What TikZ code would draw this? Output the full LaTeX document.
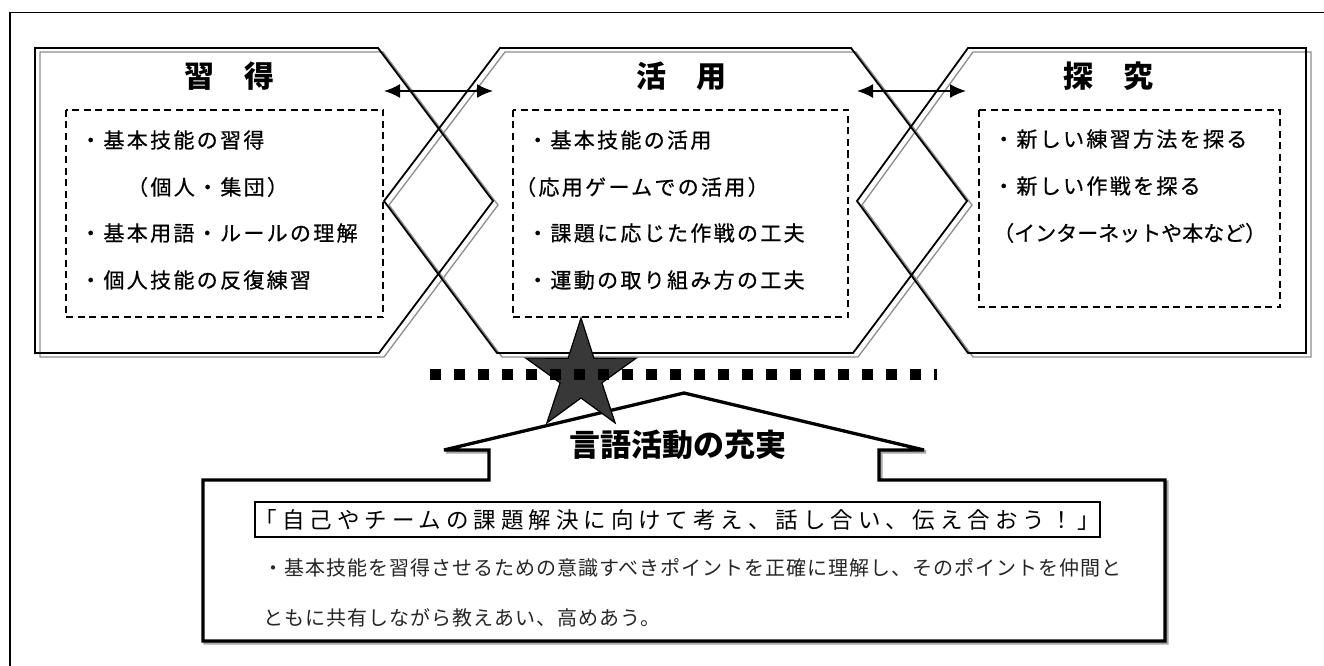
\documentclass[tikz,border=0pt]{standalone}
\usepackage{fontspec}
\setmainfont{Noto Sans CJK JP}
\newfontfamily\jpbody[LetterSpace=11, FakeBold=0.6]{Noto Sans CJK JP}
\newfontfamily\jpplain[FakeBold=0.6]{Noto Sans CJK JP}
\newfontfamily\jpquote[LetterSpace=22]{Noto Sans CJK JP}
\newfontfamily\jpsmall[LetterSpace=5]{Noto Sans CJK JP}
\usetikzlibrary{arrows.meta}
\tikzset{
  shadowline/.style={draw=black!45, line width=1.3},
  shapeline/.style={draw=black, line width=1.8},
  dashbox/.style={draw=black, line width=1.4, dash pattern=on 7pt off 4.5pt},
  titletext/.style={font=\fontsize{30}{30}\selectfont\bfseries, inner sep=0},
  bodytext/.style={font=\jpbody\fontsize{21}{21}\selectfont, anchor=west, inner sep=0},
  biarrow/.style={{Latex[length=16pt,width=14pt]}-{Latex[length=16pt,width=14pt]}, line width=1.8},
  smalltext/.style={font=\jpsmall\fontsize{20}{20}\selectfont, anchor=west, inner sep=0, text=black!85},
}
\begin{document}
\begin{tikzpicture}[x=1pt,y=-1pt]
\useasboundingbox (0,0) rectangle (1324,666);
\fill[white] (0,0) rectangle (1324,666);
% outer frame (top and left only visible)
\draw[line width=1.7] (10,666) -- (10,12.5) -- (1324,12.5);

% shadows of the three shapes
\begin{scope}[shift={(5,4)}]
\draw[shadowline] (35,48) -- (378,48) -- (493,201) -- (379,353) -- (35,353) -- cycle;
\draw[shadowline] (500,48) -- (851,48) -- (967,201) -- (853,353) -- (497,353) -- (384,201) -- cycle;
\draw[shadowline] (968,48) -- (1306,48) -- (1306,353) -- (968,353) -- (857,201) -- cycle;
\end{scope}
% the three shapes
\draw[shapeline] (35,48) -- (378,48) -- (493,201) -- (379,353) -- (35,353) -- cycle;
\draw[shapeline] (500,48) -- (851,48) -- (967,201) -- (853,353) -- (497,353) -- (384,201) -- cycle;
\draw[shapeline] (968,48) -- (1306,48) -- (1306,353) -- (968,353) -- (857,201) -- cycle;

% dashed boxes
\draw[dashbox] (66,110) rectangle (383,317);
\draw[dashbox] (513,110) rectangle (848,317);
\draw[dashbox] (979,110) rectangle (1280,307);

% titles
\node[titletext] (tA) at (229,76) {習　得};
\node[titletext] (tB) at (681,76) {活　用};
\node[titletext] (tC) at (1108,76) {探　究};

% double arrows
\coordinate (aL1) at (384,91);
\coordinate (aR1) at (493,91);
\coordinate (aL2) at (857,91);
\coordinate (aR2) at (966,91);
\draw[biarrow] (aL1) -- (aR1);
\draw[biarrow] (aL2) -- (aR2);

% body texts
\node[bodytext] (a1) at (80,140) {・基本技能の習得};
\node[bodytext] (a2) at (127,187) {（個人・集団）};
\node[bodytext] (a3) at (80,233) {・基本用語・ルールの理解};
\node[bodytext] (a4) at (80,280) {・個人技能の反復練習};

\node[bodytext] (b1) at (527,140) {・基本技能の活用};
\node[bodytext] (b2) at (515,187) {（応用ゲームでの活用）};
\node[bodytext] (b3) at (527,233) {・課題に応じた作戦の工夫};
\node[bodytext] (b4) at (527,280) {・運動の取り組み方の工夫};

\node[bodytext] (c1) at (993,139) {・新しい練習方法を探る};
\node[bodytext] (c2) at (993,186) {・新しい作戦を探る};
\node[bodytext, font=\jpplain\fontsize{21}{21}\selectfont] (c3) at (993,233) {（インターネットや本など）};

% callout (arrow + box)
\draw[black!35, line width=3.3, miter limit=3, shift={(2,2)}] (203,480) -- (489,480) -- (489,450) -- (444,450) -- (684,393) -- (924,450) -- (879,450) -- (879,480) -- (1165,480) -- (1165,641) -- (203,641) -- cycle;
\draw[fill=white, line width=3.3, miter limit=3] (203,480) -- (489,480) -- (489,450) -- (444,450) -- (684,393) -- (924,450) -- (879,450) -- (879,480) -- (1165,480) -- (1165,641) -- (203,641) -- cycle;

\node[font=\fontsize{31}{31}\selectfont\bfseries, inner sep=0] (lang) at (678,445) {言語活動の充実};

\node[draw, line width=2, minimum width=831pt, minimum height=35pt, inner sep=0,
      font=\jpquote\fontsize{22.5}{22.5}\selectfont] (quote) at (677.5,519.5)
      {「自己やチームの課題解決に向けて考え、話し合い、伝え合おう！」};

\node[smalltext] (p1) at (263,568) {・基本技能を習得させるための意識すべきポイントを正確に理解し、そのポイントを仲間と};
\node[smalltext] (p2) at (263,618) {ともに共有しながら教えあい、高めあう。};

% star
\draw[fill=black!78, line width=1.2, line join=miter]
  (581,318) -- (593.9,358.2) -- (636.2,358.1) -- (601.9,382.8) -- (615.1,422.9)
  -- (581,398) -- (546.9,422.9) -- (560.1,382.8) -- (525.8,358.1) -- (568.1,358.2) -- cycle;

% thick dotted line
\draw[line width=11, dash pattern=on 11pt off 13pt] (430,374) -- (937,374);
\end{tikzpicture}
\end{document}
